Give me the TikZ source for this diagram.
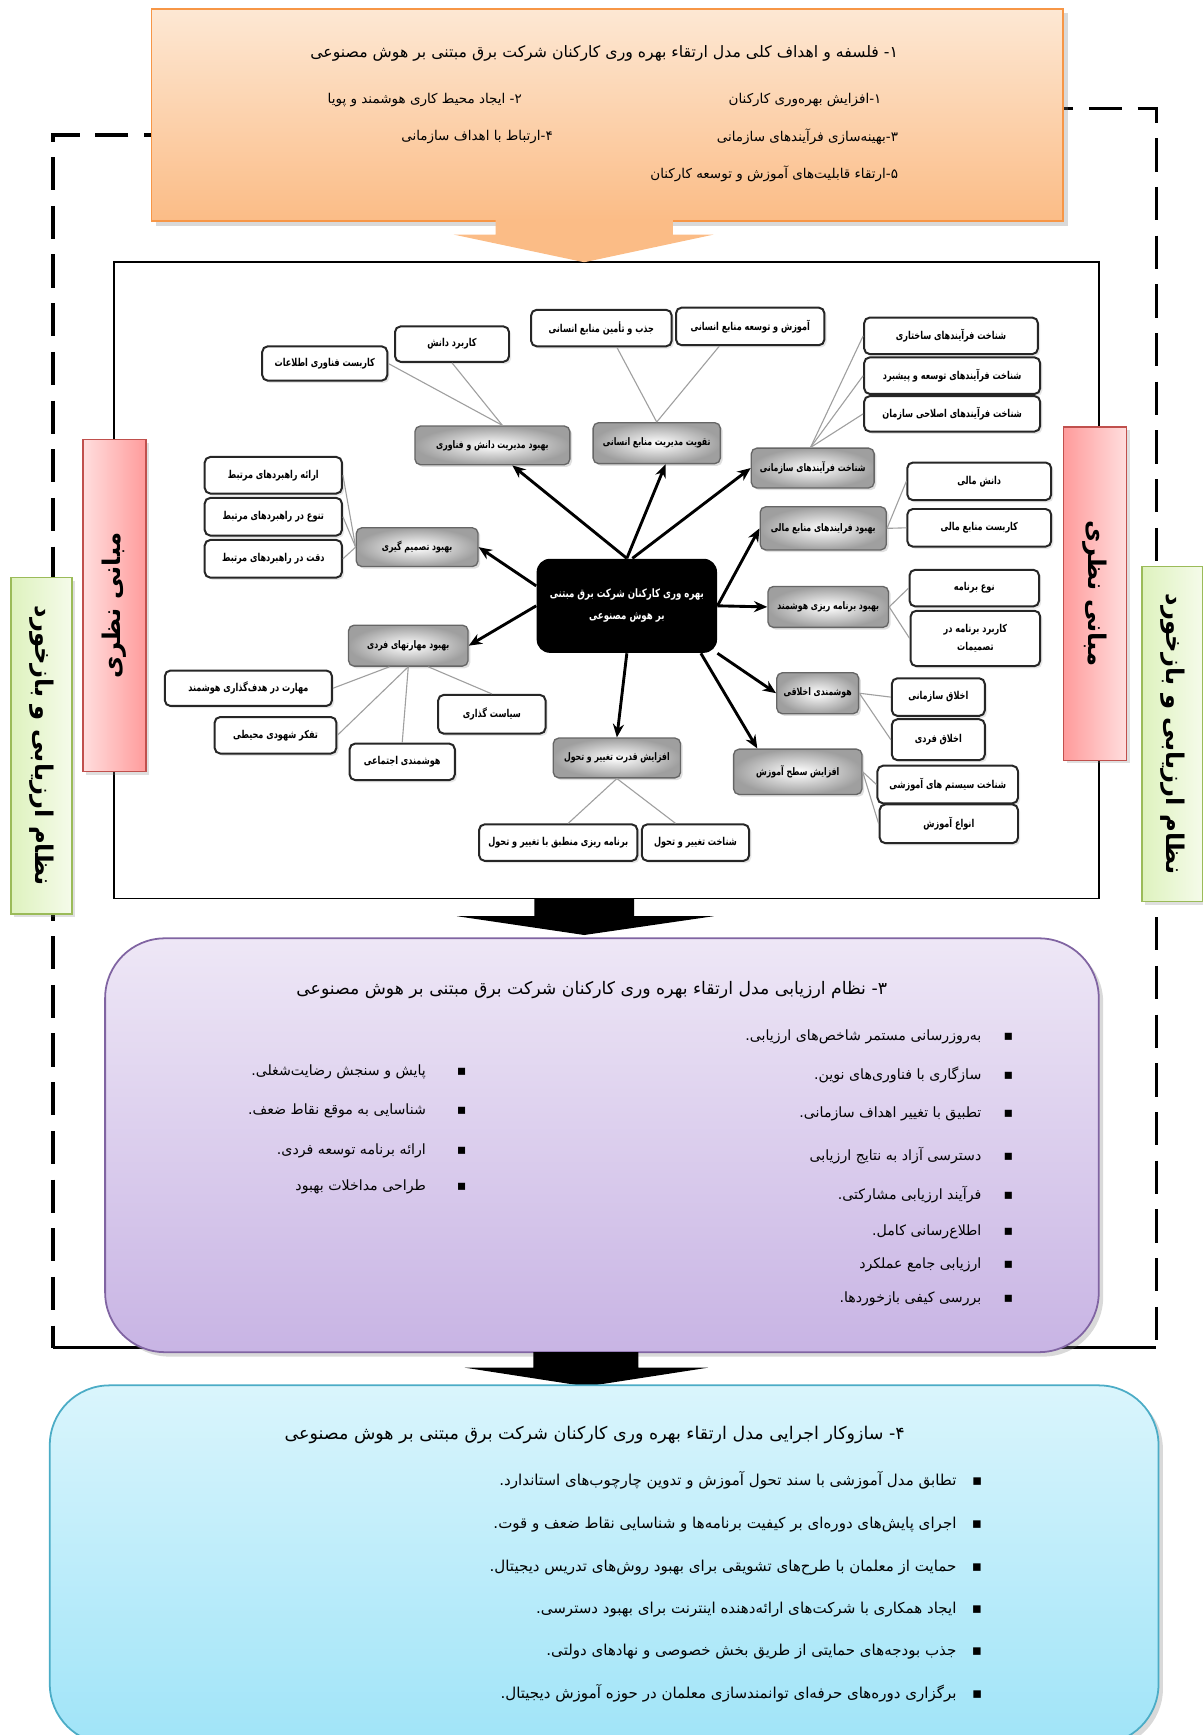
\documentclass[tikz,border=0pt]{standalone}
\usepackage{fontspec}
\usepackage{tikz}
\usetikzlibrary{arrows.meta, positioning, calc, shadows}
\newfontfamily\farsi[Script=Arabic]{DejaVu Sans}
\newfontfamily\farsinarrow[Script=Arabic, FakeStretch=0.75]{DejaVu Sans}
\TeXXeTstate=1
\newcommand{\rtltext}[1]{\beginR #1\endR}
\definecolor{orangetop}{RGB}{253,232,212}
\definecolor{orangebot}{RGB}{251,188,134}
\definecolor{orangeline}{RGB}{247,150,70}
\definecolor{purpletop}{RGB}{238,231,246}
\definecolor{purplebot}{RGB}{200,180,228}
\definecolor{purpleline}{RGB}{128,100,162}
\definecolor{bluetop}{RGB}{218,245,252}
\definecolor{bluebot}{RGB}{160,228,248}
\definecolor{blueline}{RGB}{75,172,198}
\definecolor{redlight}{RGB}{255,222,222}
\definecolor{reddark}{RGB}{255,155,155}
\definecolor{redline}{RGB}{192,80,77}
\definecolor{greenlight}{RGB}{245,251,234}
\definecolor{greendark}{RGB}{222,242,190}
\definecolor{greenline}{RGB}{155,187,89}

\begin{document}
\begin{tikzpicture}[
    x=0.5pt, y=-0.5pt,
    panel/.style={draw, line width=0.8pt, drop shadow={opacity=0.3, shadow xshift=2pt, shadow yshift=-2pt}},
    sidebox/.style={draw, line width=0.6pt, drop shadow={opacity=0.25, shadow xshift=1.5pt, shadow yshift=-1.5pt}},
    sidetext/.style={font=\farsi\bfseries\fontsize{11}{13}\selectfont},
    hubbox/.style={fill=black, rounded corners=6pt, text=white, align=center, inner sep=1pt, font=\farsinarrow\bfseries\fontsize{5.2}{10}\selectfont},
    branchbox/.style={draw=gray!80!black, line width=0.6pt, rounded corners=2.5pt, inner sep=1pt, shading=radial, inner color=white, outer color=gray!75, font=\farsinarrow\bfseries\fontsize{4.7}{6}\selectfont, drop shadow={opacity=0.25, shadow xshift=1pt, shadow yshift=-1pt}},
    leafbox/.style={draw=black!85, fill=white, line width=0.9pt, rounded corners=2.5pt, align=center, inner sep=1pt, font=\farsinarrow\bfseries\fontsize{4.9}{8}\selectfont, drop shadow={opacity=0.2, shadow xshift=1pt, shadow yshift=-1pt}},
    link/.style={draw=gray!75, line width=0.5pt},
    arr/.style={-{Stealth[length=6pt,width=5pt]}, line width=1.3pt},
    headline/.style={font=\farsi\fontsize{7.1}{9}\selectfont, anchor=east, inner sep=0pt},
    itemline/.style={font=\farsi\fontsize{6.4}{8}\selectfont, anchor=east, inner sep=0pt},
    blockarrow/.style={fill=black}
]
    \useasboundingbox (0,0) rectangle (1087,1568);

    % Evaluation loop - dashed frame
    \draw[line width=1.6pt, dash pattern=on 15pt off 7pt] (160,122) -- (48,122) -- (48,1218);
    \draw[line width=1.6pt, dash pattern=on 15pt off 7pt] (940,98) -- (1045,98) -- (1045,1218);
    \draw[line width=1.2pt] (48,1218) -- (1045,1218);

    % Theory frame round the mind map
    \draw[line width=0.7pt] (103,237) rectangle (993,812);

    % 1 - philosophy and goals
    \node[panel, draw=orangeline, top color=orangetop, bottom color=orangebot, minimum width=412pt, minimum height=96pt] (goals) at (549,104) {};
    \node[headline] (goaltitle) at (812,48) {\rtltext{۱- فلسفه و اهداف کلی مدل ارتقاء بهره وری کارکنان شرکت برق مبتنی بر هوش مصنوعی}};
    \node[itemline, font=\farsi\fontsize{6.1}{8}\selectfont] (goal1) at (797,90) {\rtltext{۱-افزایش بهره^^^^200cوری کارکنان}};
    \node[itemline, font=\farsi\fontsize{6.1}{8}\selectfont] (goal2) at (472,90) {\rtltext{۲- ایجاد محیط کاری هوشمند و پویا}};
    \node[itemline, font=\farsi\fontsize{6.1}{8}\selectfont] (goal3) at (812,124) {\rtltext{۳-بهینه^^^^200cسازی فرآیندهای سازمانی}};
    \node[itemline, font=\farsi\fontsize{6.1}{8}\selectfont] (goal4) at (500,124) {\rtltext{۴-ارتباط با اهداف سازمانی}};
    \node[itemline, font=\farsi\fontsize{6.1}{8}\selectfont] (goal5) at (812,157) {\rtltext{۵-ارتقاء قابلیت^^^^200cهای آموزش و توسعه کارکنان}};
    \fill[orangebot] (448,199) -- (608,199) -- (608,212) -- (645,212) -- (528,237) -- (410,212) -- (448,212) -- cycle;

    % Side bars
    \node[sidebox, draw=redline, left color=redlight, right color=reddark, minimum width=28.5pt, minimum height=150pt] (theoryL) at (103.5,547) {};
    \node[sidetext, rotate=90] at (theoryL.center) {\rtltext{مبانی نظری}};
    \node[sidebox, draw=redline, left color=reddark, right color=redlight, minimum width=28.5pt, minimum height=150.5pt] (theoryR) at (989.5,536.5) {};
    \node[sidetext, rotate=-90] at (theoryR.center) {\rtltext{مبانی نظری}};
    \node[sidebox, draw=greenline, left color=greendark, right color=greenlight, minimum width=27.5pt, minimum height=152pt] (evalL) at (37.5,674) {};
    \node[sidetext, rotate=-90] at (evalL.center) {\rtltext{نظام ارزیابی و بازخورد}};
    \node[sidebox, draw=greenline, left color=greendark, right color=greenlight, minimum width=27.5pt, minimum height=151.5pt] (evalR) at (1059.5,663.5) {};
    \node[sidetext, rotate=-90] at (evalR.center) {\rtltext{نظام ارزیابی و بازخورد}};

    % Core node
    \node[hubbox, minimum width=81.5pt, minimum height=42.5pt] (core) at (566.5,547.5) {\rtltext{بهره وری کارکنان شرکت برق مبتنی}\\\rtltext{بر هوش مصنوعی}};

    % Branches
    \node[branchbox, minimum width=70pt, minimum height=17.5pt] (km) at (445,402.5) {\rtltext{بهبود مدیریت دانش و فناوری}};
    \node[branchbox, minimum width=57.5pt, minimum height=18.5pt] (hr) at (593.5,400.5) {\rtltext{تقویت مدیریت منابع انسانی}};
    \node[branchbox, minimum width=55.5pt, minimum height=18pt] (proc) at (734.5,423) {\rtltext{شناخت فرآیندهای سازمانی}};
    \node[branchbox, minimum width=57pt, minimum height=19.5pt] (fin) at (744,477.5) {\rtltext{بهبود فرایندهای منابع مالی}};
    \node[branchbox, minimum width=54.5pt, minimum height=18.5pt] (plan) at (748.5,548.5) {\rtltext{بهبود برنامه ریزی هوشمند}};
    \node[branchbox, minimum width=37pt, minimum height=18.5pt] (ethic) at (739,626.5) {\rtltext{هوشمندی اخلاقی}};
    \node[branchbox, minimum width=58pt, minimum height=20.5pt] (edu) at (721,697.5) {\rtltext{افزایش سطح آموزش}};
    \node[branchbox, minimum width=57.5pt, minimum height=18pt] (change) at (557.5,685) {\rtltext{افزایش قدرت تغییر و تحول}};
    \node[branchbox, minimum width=54pt, minimum height=18.5pt] (skill) at (369,583.5) {\rtltext{بهبود مهارتهای فردی}};
    \node[branchbox, minimum width=55pt, minimum height=17.5pt] (decide) at (377,494.5) {\rtltext{بهبود تصمیم گیری}};

    % Leaves - knowledge
    \node[leafbox, minimum width=56.5pt, minimum height=15.5pt] (km1) at (293.5,328.5) {\rtltext{کاربست فناوری اطلاعات}};
    \node[leafbox, minimum width=51.5pt, minimum height=16pt] (km2) at (408.5,311) {\rtltext{کاربرد دانش}};
    % Leaves - human resources
    \node[leafbox, minimum width=63.5pt, minimum height=16.5pt] (hr1) at (543.5,296.5) {\rtltext{جذب و تأمین منابع انسانی}};
    \node[leafbox, minimum width=67pt, minimum height=17pt] (hr2) at (678,295) {\rtltext{آموزش و توسعه منابع انسانی}};
    % Leaves - processes
    \node[leafbox, minimum width=78.5pt, minimum height=16.5pt] (proc1) at (859.5,303.5) {\rtltext{شناخت فرآیندهای ساختاری}};
    \node[leafbox, minimum width=79.5pt, minimum height=16.5pt] (proc2) at (860.5,339.5) {\rtltext{شناخت فرآیندهای توسعه و پیشبرد}};
    \node[leafbox, minimum width=79.5pt, minimum height=16pt] (proc3) at (860.5,374) {\rtltext{شناخت فرآیندهای اصلاحی سازمان}};
    % Leaves - finance
    \node[leafbox, minimum width=65pt, minimum height=17pt] (fin1) at (885,435) {\rtltext{دانش مالی}};
    \node[leafbox, minimum width=65pt, minimum height=17pt] (fin2) at (885,477) {\rtltext{کاربست منابع مالی}};
    % Leaves - planning
    \node[leafbox, minimum width=58.5pt, minimum height=16.5pt] (plan1) at (880.5,531.5) {\rtltext{نوع برنامه}};
    \node[leafbox, minimum width=58.5pt, minimum height=25pt] (plan2) at (881.5,577) {\rtltext{کاربرد برنامه در}\\\rtltext{تصمیمات}};
    % Leaves - ethics
    \node[leafbox, minimum width=42pt, minimum height=17pt] (ethic1) at (848,630) {\rtltext{اخلاق سازمانی}};
    \node[leafbox, minimum width=42pt, minimum height=18.5pt] (ethic2) at (848,668.5) {\rtltext{اخلاق فردی}};
    % Leaves - education
    \node[leafbox, minimum width=63.5pt, minimum height=17pt] (edu1) at (856.5,709) {\rtltext{شناخت سیستم های آموزشی}};
    \node[leafbox, minimum width=62.5pt, minimum height=17.5pt] (edu2) at (857.5,744.5) {\rtltext{انواع آموزش}};
    % Leaves - change
    \node[leafbox, minimum width=71.5pt, minimum height=16.5pt] (change1) at (504.5,761.5) {\rtltext{برنامه ریزی منطبق با تغییر و تحول}};
    \node[leafbox, minimum width=48.5pt, minimum height=16.5pt] (change2) at (628.5,761.5) {\rtltext{شناخت تغییر و تحول}};
    % Leaves - skills
    \node[leafbox, minimum width=75.5pt, minimum height=16pt] (skill1) at (224.5,622) {\rtltext{مهارت در هدف^^^^200cگذاری هوشمند}};
    \node[leafbox, minimum width=55pt, minimum height=16.5pt] (skill2) at (249,664.5) {\rtltext{تفکر شهودی محیطی}};
    \node[leafbox, minimum width=47.5pt, minimum height=16.5pt] (skill3) at (363.5,688.5) {\rtltext{هوشمندی اجتماعی}};
    \node[leafbox, minimum width=48.5pt, minimum height=17.5pt] (skill4) at (444.5,645.5) {\rtltext{سیاست گذاری}};
    % Leaves - decisions
    \node[leafbox, minimum width=62pt, minimum height=16.5pt] (decide1) at (247,429.5) {\rtltext{ارائه راهبردهای مرتبط}};
    \node[leafbox, minimum width=62pt, minimum height=17pt] (decide2) at (247,467) {\rtltext{تنوع در راهبردهای مرتبط}};
    \node[leafbox, minimum width=62pt, minimum height=17pt] (decide3) at (247,505) {\rtltext{دقت در راهبردهای مرتبط}};

    % Thin links
    \draw[link] ($(km.north)+(9,0)$) -- (km1.east);
    \draw[link] ($(km.north)+(9,0)$) -- (km2.south);
    \draw[link] (hr.north) -- ($(hr1.south)+(14,0)$);
    \draw[link] (hr.north) -- ($(hr2.south)+(-28,0)$);
    \draw[link] ($(proc.north)+(-2,0)$) -- (proc1.west);
    \draw[link] ($(proc.north)+(-2,0)$) -- (proc2.west);
    \draw[link] ($(proc.north)+(-2,0)$) -- (proc3.west);
    \draw[link] (fin.east) -- (fin1.west);
    \draw[link] (fin.east) -- (fin2.west);
    \draw[link] (plan.east) -- (plan1.west);
    \draw[link] (plan.east) -- (plan2.west);
    \draw[link] (ethic.east) -- (ethic1.west);
    \draw[link] (ethic.east) -- (ethic2.west);
    \draw[link] (edu.east) -- (edu1.west);
    \draw[link] (edu.east) -- (edu2.west);
    \draw[link] (change.south) -- ($(change1.north)+(9,0)$);
    \draw[link] (change.south) -- ($(change2.north)+(-18,0)$);
    \draw[link] ($(skill.south)+(-17,0)$) -- (skill1.east);
    \draw[link] (skill.south) -- (skill2.east);
    \draw[link] (skill.south) -- (skill3.north);
    \draw[link] ($(skill.south)+(18,0)$) -- (skill4.north);
    \draw[link] (decide.west) -- (decide1.east);
    \draw[link] (decide.west) -- (decide2.east);
    \draw[link] (decide.west) -- (decide3.east);

    % Arrows from the core
    \draw[arr] (core.north) -- ($(km.south)+(18,0)$);
    \draw[arr] (core.north) -- ($(hr.south)+(8,0)$);
    \draw[arr] ($(core.north)+(5,0)$) -- (proc.west);
    \draw[arr] (core.east) -- (fin.west);
    \draw[arr] (core.east) -- (plan.west);
    \draw[arr] (core.south east) -- (ethic.west);
    \draw[arr] ($(core.south east)+(-15,0)$) -- ($(edu.north west)+(22,0)$);
    \draw[arr] (core.south) -- (change.north);
    \draw[arr] (core.west) -- (skill.east);
    \draw[arr] ($(core.west)+(0,-18)$) -- (decide.east);

    % Block arrow to section 3
    \fill[blockarrow] (483,812) -- (573,812) -- (573,828) -- (645,828) -- (528,845) -- (413,828) -- (483,828) -- cycle;

    % 3 - evaluation system
    \node[panel, draw=purpleline, top color=purpletop, bottom color=purplebot, rounded corners=27pt, minimum width=449pt, minimum height=187pt] (evalsys) at (544,1035) {};
    \node[headline, font=\farsi\fontsize{7.8}{9}\selectfont] (evaltitle) at (802,895) {\rtltext{۳- نظام ارزیابی مدل ارتقاء بهره وری کارکنان شرکت برق مبتنی بر هوش مصنوعی}};
    \node[itemline] (ev1) at (916,937) {\rtltext{▪\hspace{10pt}به^^^^200cروزرسانی مستمر شاخص^^^^200cهای ارزیابی.}};
    \node[itemline] (ev2) at (916,971) {\rtltext{▪\hspace{10pt}سازگاری با فناوری^^^^200cهای نوین.}};
    \node[itemline] (ev3) at (916,1007) {\rtltext{▪\hspace{10pt}تطبیق با تغییر اهداف سازمانی.}};
    \node[itemline] (ev4) at (916,1044) {\rtltext{▪\hspace{10pt}دسترسی آزاد به نتایج ارزیابی}};
    \node[itemline] (ev5) at (916,1080) {\rtltext{▪\hspace{10pt}فرآیند ارزیابی مشارکتی.}};
    \node[itemline] (ev6) at (916,1113) {\rtltext{▪\hspace{10pt}اطلاع^^^^200cرسانی کامل.}};
    \node[itemline] (ev7) at (916,1143) {\rtltext{▪\hspace{10pt}ارزیابی جامع عملکرد}};
    \node[itemline] (ev8) at (916,1174) {\rtltext{▪\hspace{10pt}بررسی کیفی بازخوردها.}};
    \node[itemline] (ev9) at (422,969) {\rtltext{▪\hspace{14pt}پایش و سنجش رضایت^^^^200cشغلی.}};
    \node[itemline] (ev10) at (422,1004) {\rtltext{▪\hspace{14pt}شناسایی به موقع نقاط ضعف.}};
    \node[itemline] (ev11) at (422,1040) {\rtltext{▪\hspace{14pt}ارائه برنامه توسعه فردی.}};
    \node[itemline] (ev12) at (422,1073) {\rtltext{▪\hspace{14pt}طراحی مداخلات بهبود}};

    % Block arrow to section 4
    \fill[blockarrow] (482,1222) -- (577,1222) -- (577,1236) -- (640,1236) -- (530,1253) -- (420,1236) -- (482,1236) -- cycle;

    % 4 - implementation mechanism
    \node[panel, draw=blueline, top color=bluetop, bottom color=bluebot, rounded corners=27pt, minimum width=501pt, minimum height=162pt] (mech) at (546,1414) {};
    \node[headline, font=\farsi\fontsize{7.9}{9}\selectfont] (mechtitle) at (818,1297) {\rtltext{۴- سازوکار اجرایی مدل ارتقاء بهره وری کارکنان شرکت برق مبتنی بر هوش مصنوعی}};
    \node[itemline, font=\farsi\fontsize{6.8}{8}\selectfont] (me1) at (888,1338) {\rtltext{▪\hspace{7pt}تطابق مدل آموزشی با سند تحول آموزش و تدوین چارچوب^^^^200cهای استاندارد.}};
    \node[itemline, font=\farsi\fontsize{6.8}{8}\selectfont] (me2) at (888,1378) {\rtltext{▪\hspace{7pt}اجرای پایش^^^^200cهای دوره^^^^200cای بر کیفیت برنامه^^^^200cها و شناسایی نقاط ضعف و قوت.}};
    \node[itemline, font=\farsi\fontsize{6.8}{8}\selectfont] (me3) at (888,1417) {\rtltext{▪\hspace{7pt}حمایت از معلمان با طرح^^^^200cهای تشویقی برای بهبود روش^^^^200cهای تدریس دیجیتال.}};
    \node[itemline, font=\farsi\fontsize{6.8}{8}\selectfont] (me4) at (888,1455) {\rtltext{▪\hspace{7pt}ایجاد همکاری با شرکت^^^^200cهای ارائه^^^^200cدهنده اینترنت برای بهبود دسترسی.}};
    \node[itemline, font=\farsi\fontsize{6.8}{8}\selectfont] (me5) at (888,1493) {\rtltext{▪\hspace{7pt}جذب بودجه^^^^200cهای حمایتی از طریق بخش خصوصی و نهادهای دولتی.}};
    \node[itemline, font=\farsi\fontsize{6.8}{8}\selectfont] (me6) at (888,1530) {\rtltext{▪\hspace{7pt}برگزاری دوره^^^^200cهای حرفه^^^^200cای توانمندسازی معلمان در حوزه آموزش دیجیتال.}};
\end{tikzpicture}
\end{document}
